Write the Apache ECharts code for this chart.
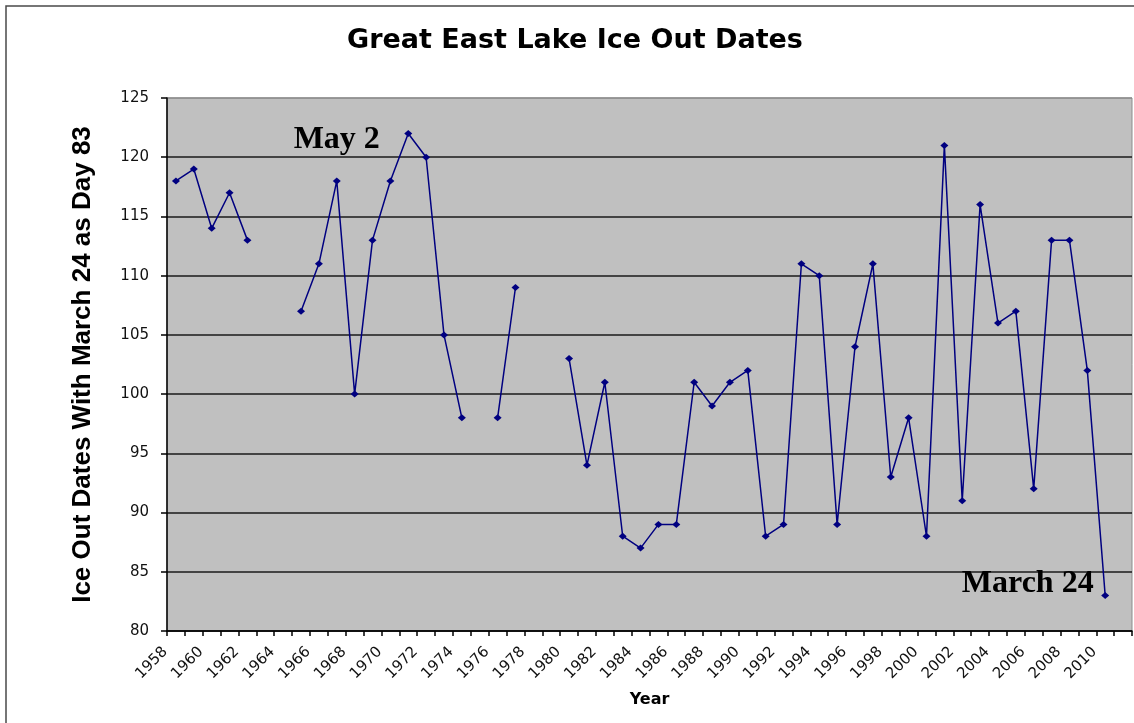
<!DOCTYPE html>
<html>
<head>
<meta charset="utf-8">
<script src="https://cdn.jsdelivr.net/npm/echarts@6/dist/echarts.min.js"></script>
<style>
html,body{margin:0;padding:0;background:#fff;}
#chart{width:1134px;height:723px;}
</style>
</head>
<body>
<div id="chart"></div>
<script>
const years = ['1958','1959','1960','1961','1962','1963','1964','1965','1966','1967',
  '1968','1969','1970','1971','1972','1973','1974','1975','1976','1977',
  '1978','1979','1980','1981','1982','1983','1984','1985','1986','1987',
  '1988','1989','1990','1991','1992','1993','1994','1995','1996','1997',
  '1998','1999','2000','2001','2002','2003','2004','2005','2006','2007',
  '2008','2009','2010','2011'];
const iceOutDay = [118,119,114,117,113,null,null,107,111,118,
  100,113,118,122,120,105,98,null,98,109,
  null,null,103,94,101,88,87,89,89,101,
  99,101,102,88,89,111,110,89,104,111,
  93,98,88,121,91,116,106,107,92,113,
  113,102,83,null];
const yTicks = [80,85,90,95,100,105,110,115,120,125];
const titleText = 'Great East Lake Ice Out Dates';
const notes = [
  {text:'May 2', year:'1967', value:121.5, dx:0},
  {text:'March 24', year:'2006', value:84.0, dx:-6}
];

const chart = echarts.init(document.getElementById('chart'));
const gridColors = yTicks.map((v,i)=> i===yTicks.length-1 ? '#8c8c8c' : '#1a1a1a');

chart.setOption({
  animation:false,
  backgroundColor:'#ffffff',
  graphic:[{
    type:'rect', silent:true, z:-10,
    shape:{x:6, y:6, width:1300, height:900},
    style:{fill:'none', stroke:'#4a4a4a', lineWidth:1.5}
  },{
    type:'text', silent:true, x:575, y:41,
    style:{text:titleText, fontFamily:'DejaVu Sans', fontWeight:'bold', fontSize:27, fill:'#000',
      textAlign:'center', textVerticalAlign:'middle', align:'center', verticalAlign:'middle'}
  }],
  grid:{
    left:167, right:2, top:98, bottom:92,
    show:true, backgroundColor:'#c0c0c0', borderColor:'#8c8c8c', borderWidth:1
  },
  xAxis:{
    type:'category', data:years, boundaryGap:true,
    name:'Year', nameLocation:'middle', nameGap:61,
    nameTextStyle:{fontFamily:'DejaVu Sans', fontWeight:'bold', fontSize:16, color:'#000'},
    axisLine:{lineStyle:{color:'#000', width:1.5}},
    axisTick:{show:true, interval:0, length:5, lineStyle:{color:'#000', width:1.5}},
    axisLabel:{interval:1, rotate:45, margin:8, padding:[0,15,0,0], fontFamily:'DejaVu Sans', fontSize:15, color:'#111'},
    splitLine:{show:false}
  },
  yAxis:{
    type:'value', min:80, max:125, interval:5,
    name:'Ice Out Dates With March 24 as Day 83', nameLocation:'middle', nameGap:71, nameRotate:90,
    nameTextStyle:{fontFamily:'Liberation Sans', fontWeight:'bold', fontSize:26, color:'#000'},
    axisLine:{show:true, lineStyle:{color:'#000', width:1.5}},
    axisTick:{show:true, length:6, lineStyle:{color:'#000', width:1.5}},
    axisLabel:{margin:18, fontFamily:'DejaVu Sans', fontSize:15, color:'#111'},
    splitLine:{show:true, lineStyle:{color:gridColors, width:1.5}}
  },
  series:[{
    type:'line', data:iceOutDay, connectNulls:false,
    symbol:'diamond', symbolSize:[8,7], showSymbol:true,
    lineStyle:{color:'#000080', width:1.5},
    itemStyle:{color:'#000080'},
    markPoint:{
      symbol:'circle', symbolSize:0, silent:true,
      label:{show:true, position:'inside', fontFamily:'Liberation Serif', fontWeight:'bold', fontSize:32, color:'#000'},
      data: notes.map(n=>({coord:[n.year, n.value], value:n.text,
        label:{formatter:n.text, offset:[n.dx,0]}}))
    }
  }]
});
</script>
</body>
</html>
